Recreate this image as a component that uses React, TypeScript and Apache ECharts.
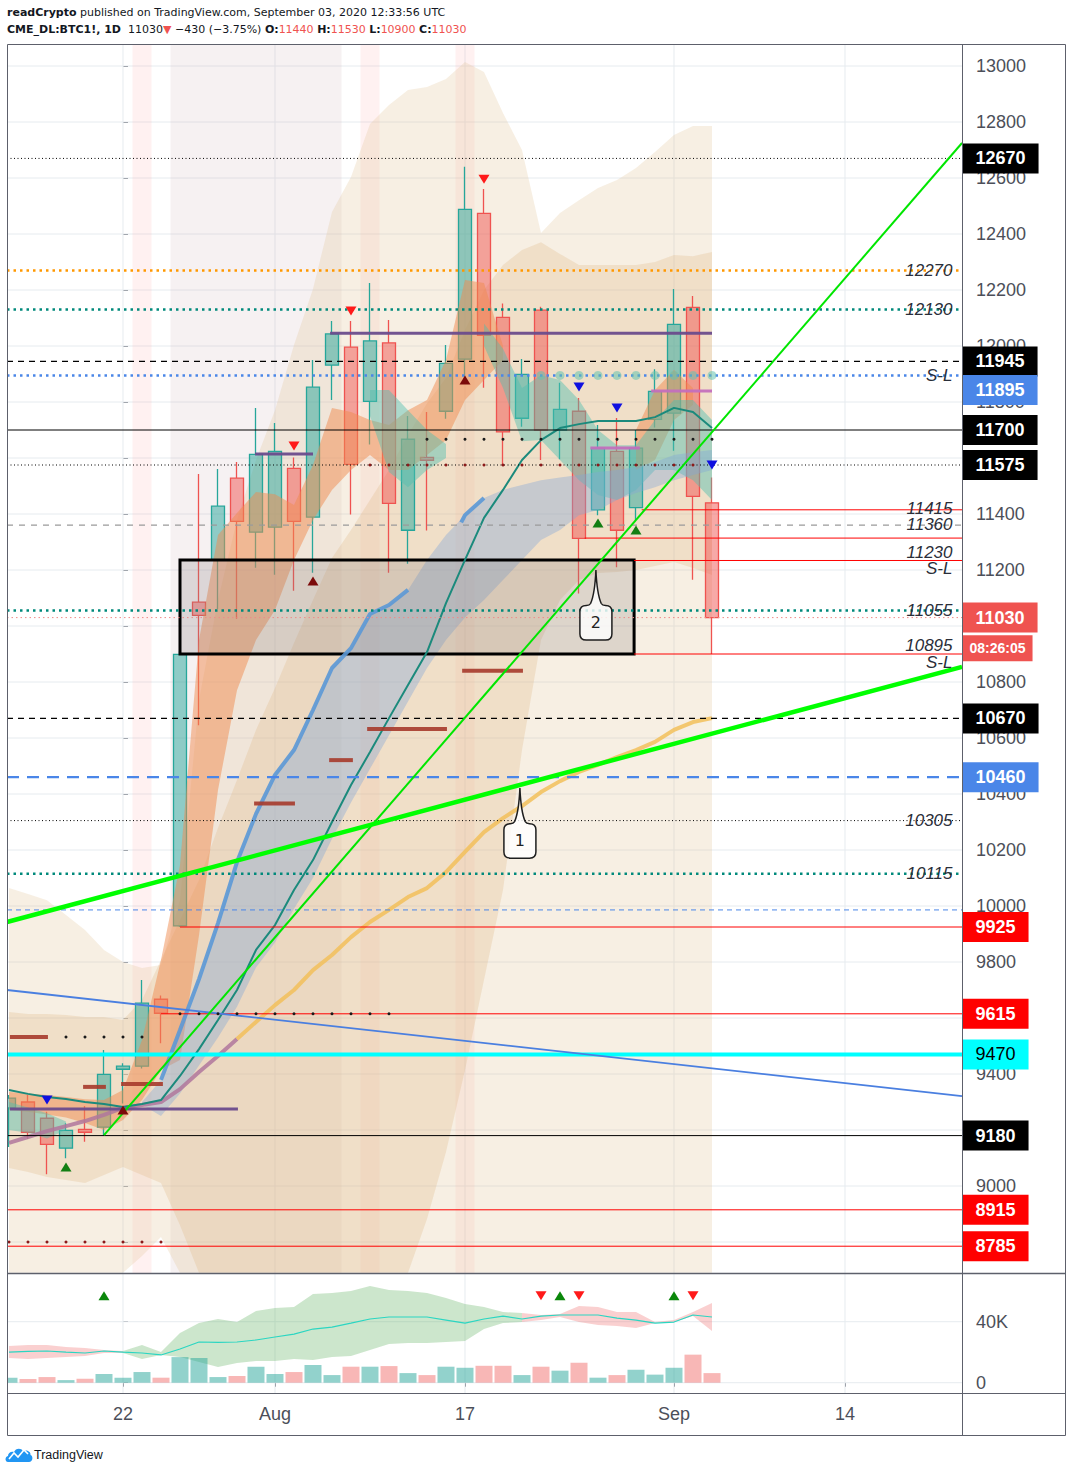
import React, { useEffect, useRef } from "react";
import * as echarts from "echarts";

// ---------------- axis ranges ----------------
const X_MIN = -6.105;
const X_MAX = 44.158;
const P_MIN = 8689.3;
const P_MAX = 13078.6;
const V_MIN = -6750;
const V_MAX = 71300;

// ---------------- candles (Jul 14 .. Sep 3, index k = i - 6, Jul 22 = 0) ----------------
const dates = ["Jul 14","Jul 15","Jul 16","Jul 17","Jul 20","Jul 21","Jul 22","Jul 23","Jul 24","Jul 27","Jul 28","Jul 29","Jul 30","Jul 31","Aug 3","Aug 4","Aug 5","Aug 6","Aug 7","Aug 10","Aug 11","Aug 12","Aug 13","Aug 14","Aug 17","Aug 18","Aug 19","Aug 20","Aug 21","Aug 24","Aug 25","Aug 26","Aug 27","Aug 28","Aug 31","Sep 1","Sep 2","Sep 3"];
const opens = [9279,9300,9242,9135,9202,9210,9417,9428,9667,9929,11085,11236,11528,11335,11353,11563,11389,11932,11996,11802,12011,11342,11602,11767,11953,12474,12102,11742,12128,11700,11767,11415,11624,11423,11738,11760,12138,11440];
const highs = [9325,9325,9265,9224,9286,9486,9438,9736,9680,10910,11543,11561,11586,11779,11725,11602,11950,12089,12089,12225,12093,11750,11764,12004,12640,12561,12152,11954,12140,11869,11814,11718,11743,11700,11917,12204,12179,11530];
const lows = [9139,9168,9042,9099,9158,9180,9295,9420,9510,9925,10646,11061,11026,11208,11183,11126,11190,11807,11398,11648,11190,11222,11341,11740,11867,11851,11575,11712,11593,11596,11116,11396,11210,11379,11709,11626,11165,10900];
const closes = [9314,9192,9149,9199,9192,9399,9428,9653,9617,10899,11038,11428,11374,11613,11624,11374,11853,12043,11577,12018,11438,11667,11592,11938,12488,12038,11693,11899,11700,11774,11313,11635,11342,11635,11838,12077,11463,11030];
const volumes = [3300,2400,3700,1700,2600,5700,3300,7000,3300,16800,16200,3700,4400,10500,5700,7000,11600,5000,10500,10500,10900,6300,5000,10500,9800,11100,11100,5000,10500,7900,13100,3300,5000,8500,5300,9800,18400,6300];
const volMA = [20100,20500,20800,20100,19500,20800,20100,19500,18200,22100,26700,26400,26700,28000,30000,31900,35200,36500,39100,41800,43100,43100,43100,41100,39100,41800,43700,41800,43700,44400,44400,44400,42400,41100,39100,39800,44400,43100];
const volCloudHi = [24065,24720,24720,23408,22753,21441,20786,24720,20130,32588,39145,41768,39800,47013,48980,49636,58160,58816,60127,63406,60783,60127,58816,55538,51603,49636,46358,45702,44391,45046,50292,49636,46358,46358,39800,41112,46358,52259];
const volCloudLo = [16196,15540,16196,16851,17507,19474,19474,15540,18163,16851,13573,10294,12917,14229,14229,15540,14885,16851,17507,21441,25376,26031,26031,26687,27343,35211,39145,39800,41112,43079,39800,37834,37178,35867,39145,39800,43735,33900];

// ---------------- envelopes / bands (price) ----------------
const envOuterHi = [10064,10043,10021,9968,9914,9843,9800,9779,9789,10021,10736,11093,11379,11593,11771,12004,12204,12479,12604,12793,12861,12914,12925,12954,13014,12979,12832,12700,12404,12475,12521,12564,12593,12636,12693,12754,12786,12786];
const envOuterLo = [8690,8690,8690,8690,8690,8690,8690,8750,8818,8690,8690,8690,8690,8690,8690,8690,8690,8690,8690,8690,8690,8690,8690,8690,8690,8690,8690,8690,8690,8690,8690,8690,8690,8690,8690,8690,8690,8690];
const envInnerHi = [9621,9614,9614,9611,9604,9604,9593,9664,9807,9950,10093,10279,10450,10629,10779,10939,11093,11243,11343,11450,11557,11682,11796,11886,12057,12200,12289,12343,12371,12329,12289,12289,12289,12289,12300,12325,12321,12336];
const envInnerLo = [9064,9050,9032,9021,9011,9039,9068,9039,9011,8860,8690,8690,8690,8690,8690,8690,8690,8690,8690,8690,8690,8690,8882,9121,9414,9736,10057,10557,10950,11093,11164,11189,11193,11200,11214,11229,11207,11182];

const orangeK1 = [-6,-5,-4,-3,-2,-1,0,1,2,3,4,5,6,7,8,9,10,11,12,13,14,15,16,17,18,19,20];
const orangeLo1 = [9271,9265,9255,9245,9225,9200,9236,9307,9414,9450,9896,10414,10771,10950,11057,11236,11379,11486,11557,11611,11557,11557,11611,11664,11807,11879,11950];
const orangeHi1 = [9336,9330,9325,9318,9310,9307,9343,9521,9807,10146,10950,11325,11404,11479,11471,11432,11575,11779,11764,11736,11718,11771,11807,11950,12236,12225,12000];
const orangeK2 = [27,28,29,30];
const orangeLo2 = [11557,11593,11736,11790];
const orangeHi2 = [11700,11843,11914,11850];

const tealK1 = [-6,-5,-4,-3];
const tealLo1 = [9200,9190,9170,9200];
const tealHi1 = [9300,9280,9260,9230];
const tealK2 = [13,14,15,16,17];
const tealLo2 = [11750,11550,11496,11557,11600];
const tealHi2 = [11843,11843,11771,11700,11650];
const tealK3 = [19,20,21,22,23,24,25,26,27,28,29,30,31];
const tealLo3 = [12000,11850,11660,11664,11593,11521,11468,11450,11486,11557,11557,11521,11450];
const tealHi3 = [12080,11990,11850,11896,11879,11807,11700,11646,11646,11736,11807,11807,11736];

const grayK = [1,2,3,4,5,6,7,8,9,10,11,12,13,14,15,16,17,18,19,20,21,22,23,24,25,26,27,28,29,30,31];
const grayLo = [9290,9250,9330,9430,9530,9640,9780,9870,9990,10100,10240,10370,10490,10610,10730,10850,10950,11030,11093,11164,11236,11307,11343,11396,11414,11450,11475,11496,11521,11539,11557];
const grayHi = [9300,9379,9557,9739,9939,10157,10329,10468,10557,10700,10850,10921,11043,11075,11129,11236,11325,11396,11457,11486,11504,11521,11530,11539,11550,11557,11568,11586,11611,11621,11629];

// ---------------- moving-average style lines ----------------
const mauveK = [-6,-5,-4,-3,-2,-1,0,1,2,3,4,5,6];
const mauveP = [9154,9175,9196,9214,9232,9254,9279,9289,9300,9346,9407,9464,9525];
const yellowK = [6,7,8,9,10,11,12,13,14,15,16,17,18,19,20,21,22,23,24,25,26,27,28,29,30,31];
const yellowP = [9525,9586,9646,9700,9771,9825,9889,9943,9986,10032,10064,10121,10193,10264,10314,10357,10407,10446,10479,10504,10532,10557,10586,10629,10657,10671];
const blueK1 = [2,3,4,5,6,7,8,9,10,11,12,13,14,15];
const blueP1 = [9379,9557,9739,9939,10157,10329,10468,10557,10700,10850,10921,11043,11075,11129];
const blueK2 = [17.8,18,19];
const blueP2 = [11370,11396,11457];
const emaP = [9343,9329,9318,9311,9300,9293,9282,9293,9307,9393,9489,9593,9700,9843,9932,10057,10164,10300,10432,10550,10671,10789,10907,11082,11236,11386,11486,11593,11664,11707,11721,11732,11732,11732,11746,11779,11764,11707];

// ---------------- trend lines [k1, p1, k2, p2] ----------------
const trendThickGreen = [X_MIN, 9943, X_MAX, 10854];
const trendThinGreen = [-1, 9182, X_MAX, 12725];
const trendBlue = [X_MIN, 9700, X_MAX, 9321];

// ---------------- horizontal levels ----------------
const levelPrices = [12670,12270,12130,11945,11895,11700,11575,11415,11360,11314,11234,11055,11030,10900,10670,10460,10305,10115,9986,9925,9615,9470,9180,8915,8785];
const levelStart = [X_MIN,X_MIN,X_MIN,X_MIN,X_MIN,X_MIN,X_MIN,27.3,X_MIN,24.3,26.9,X_MIN,X_MIN,26.9,X_MIN,X_MIN,X_MIN,X_MIN,X_MIN,3,2,X_MIN,X_MIN,X_MIN,X_MIN];
const levelKind = ["blackDot","orangeDot","tealDot","blackDash","blueDot","black","blackDot","red","grayDash","red","red","tealDot","salmonDot","red","blackDash","blueDash","blackDot","tealDot","blueThin","red","red","cyan","black","red","red"];

const noteTexts = ["12270","12130","S-L","11415","11360","11230","S-L","11055","10895","S-L","10305","10115"];
const notePrices = [12270,12130,11895,11421,11364,11264,11207,11055,10929,10871,10305,10115];

const tagTexts = ["12670","11945","11895","11700","11575","11030","08:26:05","10670","10460","9925","9615","9470","9180","8915","8785"];
const tagPrices = [12670,11945,11843,11700,11575,11030,10921,10670,10460,9925,9615,9470,9180,8915,8785];
const tagKind = ["black","black","blue","black","black","salmon","salmon","black","blue","red","red","cyan","black","red","red"];

// short segments [k1, k2, price]
const darkRedSegs = [[-5.95,-3.95,9532],[-2.1,-0.9,9354],[-0.1,2.1,9364],[6.9,9.05,10366],[10.85,12.1,10521],[12.85,17.05,10632],[17.85,21.05,10840]];
const purpleSegs = [[-5.95,6.05,9275],[6.95,10,11614],[10.9,31,12046]];
const pinkSegs = [[24.6,27.2,11636],[27.8,31,11839]];

// dot rows [kFrom, kTo, price]
const blackDotRows = [[16,31,11667],[3,14,9615],[-3,1,9532]];
const redDotRows = [[-6,2,8800],[13,30,11575]];
const tealCircleRow = [22,31,11895];

// markers
const greenUpK = [-3,25,27];
const greenUpP = [9068,11368,11343];
const maroonUpK = [0,10,18];
const maroonUpP = [9271,11161,11879];
const redDownK = [9,12,19];
const redDownP = [11643,12125,12596];
const blueDownK = [-4,24,26,31];
const blueDownP = [9307,11854,11779,11575];
const volUpK = [-1,23,29];
const volDownK = [22,24,30];
const volMarkerLevel = 57000;

// background stripes [kFrom, kTo]
const stripeFrom = [0.5,2.5,12.5,17.5];
const stripeTo = [1.5,11.5,13.5,18.5];
const stripeKind = ["pink","gray","pink","pink"];

// rectangle zone
const zoneK = [3.0, 26.9];
const zoneP = [10900, 11236];

// callouts
const calloutK = [20.89, 24.89];
const calloutP = [10421, 11200];
const calloutText = ["1", "2"];

// axes ticks
const priceTicks = [8800,9000,9200,9400,9600,9800,10000,10200,10400,10600,10800,11000,11200,11400,11600,11800,12000,12200,12400,12600,12800,13000];
// labels that are not fully covered by the price tags
const priceTickLabels = [9000,9400,9800,10000,10200,10400,10600,10800,11000,11200,11400,11800,12000,12200,12400,12600,12800,13000];
const volTicks = [0, 40000];
const timeTickIdx = [0, 8, 18, 29, 38];
const timeTickLabels = ["22", "Aug", "17", "Sep", "14"];

const FONT = "DejaVu Sans";
const AXFONT = "Liberation Sans";
const CALLOUT_PATH = "M16 0C16.5 12 18 26 21 33Q22 35 25 35Q31 35 31 41L31 63Q31 69 25 69L7 69Q1 69 1 63L1 41Q1 35 7 35Q10 35 11 33C14 26 15.5 12 16 0Z";
const TV_LOGO = "M3 17C0 17 -0.5 12 3 11C3 8 6 6 9 7C10.5 3 16 2.5 18 6C21 4.5 26 6 25.5 10C28.5 11 28 17 24 17Z";

let logoDone = false;
function ensureLogo() {
  if (logoDone) return;
  echarts.graphic.registerShape("tvlogo", echarts.graphic.extendPath(TV_LOGO, {}));
  logoDone = true;
}

const ks = dates.map((_, i) => i - 6);
function range(a: number, b: number) {
  const r: number[] = [];
  for (let k = a; k <= b; k++) r.push(k);
  return r;
}

const levelStyle: any = {
  blackDot: { color: "#000", width: 1, type: [1, 2.5] },
  orangeDot: { color: "#ff9800", width: 2.5, type: [2.5, 4] },
  tealDot: { color: "#00897b", width: 2.5, type: [2.5, 4] },
  blackDash: { color: "#000", width: 1.2, type: [6, 5] },
  blueDot: { color: "#4a86e8", width: 2.5, type: [2.5, 4] },
  black: { color: "#000", width: 1, type: "solid" },
  red: { color: "#ff0000", width: 1, type: "solid" },
  grayDash: { color: "#9a9a9a", width: 1.2, type: [6, 6] },
  salmonDot: { color: "#f08a88", width: 1, type: [1.5, 3] },
  blueDash: { color: "#4a86e8", width: 2.2, type: [12, 8] },
  blueThin: { color: "#4a86e8", width: 1, type: [5, 4] },
  cyan: { color: "#00ffff", width: 4, type: "solid" },
};
const tagColors: any = {
  black: ["#000000", "#ffffff", "bold"],
  blue: ["#4a86e8", "#ffffff", "bold"],
  salmon: ["#ef5350", "#ffffff", "bold"],
  red: ["#ff0000", "#ffffff", "bold"],
  cyan: ["#00ffff", "#000000", "normal"],
};

function seg(pane: number, data: number[][], color: string, width: number, type: any, z: number, opacity = 1) {
  return {
    type: "line", xAxisIndex: pane, yAxisIndex: pane, data, symbol: "none", silent: true, z,
    lineStyle: { color, width, type, opacity, cap: "butt" }, emphasis: { disabled: true },
  };
}

function band(pane: number, kArr: number[], lo: number[], hi: number[], color: string, z: number) {
  return {
    type: "custom", xAxisIndex: pane, yAxisIndex: pane, z, silent: true,
    data: kArr.map((k, i) => [k, lo[i], hi[i]]),
    renderItem: (params: any, api: any) => {
      if (params.dataIndex !== 0) return null;
      const pts: number[][] = [];
      for (let i = 0; i < kArr.length; i++) pts.push(api.coord([kArr[i], hi[i]]));
      for (let i = kArr.length - 1; i >= 0; i--) pts.push(api.coord([kArr[i], lo[i]]));
      return { type: "polygon", shape: { points: pts }, style: { fill: color } };
    },
  };
}

function markers(pane: number, kArr: number[], pArr: number[], rotate: number, color: string, z: number) {
  return {
    type: "scatter", xAxisIndex: pane, yAxisIndex: pane, z, silent: true,
    symbol: "triangle", symbolSize: [11, 9], symbolRotate: rotate,
    itemStyle: { color, opacity: 1 },
    data: kArr.map((k, i) => [k, pArr[i]]),
  };
}

function dots(kArr: number[], p: number, color: string, size: number, z: number) {
  return {
    type: "scatter", xAxisIndex: 0, yAxisIndex: 0, z, silent: true, symbol: "circle", symbolSize: size,
    itemStyle: { color, opacity: 1 }, data: kArr.map((k) => [k, p]),
  };
}

function buildOption() {
  const series: any[] = [];
  // grid lines
  priceTicks.forEach((p) => series.push(seg(0, [[X_MIN, p], [X_MAX, p]], "#e6ebef", 1, "solid", 1)));
  timeTickIdx.forEach((k) => series.push(seg(0, [[k, P_MIN], [k, P_MAX]], "#e6ebef", 1, "solid", 1)));
  volTicks.forEach((v) => series.push(seg(1, [[X_MIN, v], [X_MAX, v]], "#e6ebef", 1, "solid", 1)));
  timeTickIdx.forEach((k) => series.push(seg(1, [[k, V_MIN], [k, V_MAX]], "#e6ebef", 1, "solid", 1)));

  // stripes
  series.push({
    type: "custom", xAxisIndex: 0, yAxisIndex: 0, z: 2, silent: true,
    data: stripeFrom.map((a, i) => [a, stripeTo[i]]),
    renderItem: (params: any, api: any) => {
      const i = params.dataIndex;
      const a = api.coord([stripeFrom[i], P_MAX]);
      const b = api.coord([stripeTo[i], P_MIN]);
      return {
        type: "rect", shape: { x: a[0], y: a[1], width: b[0] - a[0], height: b[1] - a[1] },
        style: { fill: stripeKind[i] === "pink" ? "rgba(255,160,160,0.15)" : "rgba(200,170,175,0.16)" },
      };
    },
  });

  // envelopes
  series.push(band(0, ks, envOuterLo, envOuterHi, "rgba(225,195,150,0.27)", 3));
  series.push(band(0, ks, envInnerLo, envInnerHi, "rgba(220,180,130,0.27)", 4));

  // candles
  series.push({
    type: "candlestick", xAxisIndex: 0, yAxisIndex: 0, z: 5, silent: true, barWidth: 14, clip: true,
    data: ks.map((k, i) => [k, opens[i], closes[i], lows[i], highs[i]]),
    itemStyle: {
      color: "rgba(38,166,154,0.5)", color0: "rgba(239,83,80,0.5)",
      borderColor: "#26a69a", borderColor0: "#ef5350", borderWidth: 1.3,
    },
  });

  // indicator bands over candles
  series.push(band(0, orangeK1, orangeLo1, orangeHi1, "rgba(240,140,80,0.5)", 6));
  series.push(band(0, orangeK2, orangeLo2, orangeHi2, "rgba(240,140,80,0.5)", 6));
  series.push(band(0, tealK1, tealLo1, tealHi1, "rgba(80,190,175,0.45)", 7));
  series.push(band(0, tealK2, tealLo2, tealHi2, "rgba(80,190,175,0.45)", 7));
  series.push(band(0, tealK3, tealLo3, tealHi3, "rgba(80,190,175,0.45)", 7));
  series.push(band(0, grayK, grayLo, grayHi, "rgba(130,165,215,0.38)", 8));

  // zone rectangle
  series.push({
    type: "custom", xAxisIndex: 0, yAxisIndex: 0, z: 9, silent: true,
    data: [[zoneK[0], zoneK[1], zoneP[0], zoneP[1]]],
    renderItem: (params: any, api: any) => {
      const a = api.coord([zoneK[0], zoneP[1]]);
      const b = api.coord([zoneK[1], zoneP[0]]);
      return {
        type: "rect", shape: { x: a[0], y: a[1], width: b[0] - a[0], height: b[1] - a[1] },
        style: { fill: "rgba(140,130,130,0.24)", stroke: "#000", lineWidth: 3 },
      };
    },
  });

  // MA lines
  series.push(seg(0, mauveK.map((k, i) => [k, mauveP[i]]), "#b0779c", 4, "solid", 10, 0.85));
  series.push(seg(0, yellowK.map((k, i) => [k, yellowP[i]]), "#f2c05a", 4, "solid", 10, 0.85));
  series.push(seg(0, blueK1.map((k, i) => [k, blueP1[i]]), "#5b98d6", 4, "solid", 10, 0.9));
  series.push(seg(0, blueK2.map((k, i) => [k, blueP2[i]]), "#5b98d6", 4, "solid", 10, 0.9));
  series.push(seg(0, ks.map((k, i) => [k, emaP[i]]), "#1b8a7c", 2, "solid", 10));

  // short segments
  darkRedSegs.forEach((s) => series.push(seg(0, [[s[0], s[2]], [s[1], s[2]]], "#a63a2b", 4, "solid", 11, 0.9)));
  purpleSegs.forEach((s) => series.push(seg(0, [[s[0], s[2]], [s[1], s[2]]], "#6a4b8c", 3, "solid", 11, 0.95)));
  pinkSegs.forEach((s) => series.push(seg(0, [[s[0], s[2]], [s[1], s[2]]], "#c36fbd", 3, "solid", 11, 0.95)));

  // horizontal levels
  levelPrices.forEach((p, i) => {
    const st = levelStyle[levelKind[i]];
    series.push(seg(0, [[levelStart[i], p], [X_MAX, p]], st.color, st.width, st.type, 12));
  });

  // trend lines
  series.push(seg(0, [[trendBlue[0], trendBlue[1]], [trendBlue[2], trendBlue[3]]], "#4a7fe0", 1.8, "solid", 12));
  series.push(seg(0, [[trendThinGreen[0], trendThinGreen[1]], [trendThinGreen[2], trendThinGreen[3]]], "#00e600", 2, "solid", 12));
  series.push(seg(0, [[trendThickGreen[0], trendThickGreen[1]], [trendThickGreen[2], trendThickGreen[3]]], "#00ff00", 4.5, "solid", 12));

  // dot rows
  blackDotRows.forEach((r) => series.push(dots(range(r[0], r[1]), r[2], "#1a1a1a", 3, 13)));
  redDotRows.forEach((r) => series.push(dots(range(r[0], r[1]), r[2], "#8b1a1a", 3, 13)));
  series.push(dots(range(tealCircleRow[0], tealCircleRow[1]), tealCircleRow[2], "rgba(100,195,175,0.55)", 9, 13));

  // triangles
  series.push(markers(0, greenUpK, greenUpP, 0, "#137f13", 14));
  series.push(markers(0, maroonUpK, maroonUpP, 0, "#7b0a0a", 14));
  series.push(markers(0, redDownK, redDownP, 180, "#ff1a1a", 14));
  series.push(markers(0, blueDownK, blueDownP, 180, "#1010e0", 14));

  // italic notes
  series.push({
    type: "scatter", xAxisIndex: 0, yAxisIndex: 0, z: 15, silent: true, clip: false,
    symbolSize: 1, itemStyle: { color: "rgba(0,0,0,0)", opacity: 1 },
    data: notePrices.map((p) => [X_MAX, p]),
    label: {
      show: true, position: "left", distance: 9, formatter: (pp: any) => noteTexts[pp.dataIndex],
      fontFamily: AXFONT, fontSize: 17, fontStyle: "italic", color: "#2a2e39",
    },
  });

  // price tags on the axis
  series.push({
    type: "scatter", xAxisIndex: 0, yAxisIndex: 0, z: 20, silent: true, clip: false,
    symbolSize: 1, itemStyle: { color: "rgba(0,0,0,0)", opacity: 1 },
    data: tagPrices.map((p, i) => {
      const c = tagColors[tagKind[i]];
      const item: any = { value: [X_MAX, p], label: { backgroundColor: c[0], color: c[1], fontWeight: c[2] } };
      if (tagTexts[i].indexOf(":") >= 0) {
        item.label.fontSize = 14;
        item.label.lineHeight = 16;
        item.label.padding = [5, 7, 5, 7];
      }
      return item;
    }),
    label: {
      show: true, position: "right", distance: 0, formatter: (pp: any) => tagTexts[pp.dataIndex],
      fontFamily: AXFONT, fontSize: 18, fontWeight: "bold", padding: [6, 13, 5, 13], lineHeight: 19,
    },
  });

  // callouts
  series.push({
    type: "custom", xAxisIndex: 0, yAxisIndex: 0, z: 16, silent: true,
    data: calloutK.map((k, i) => [k, calloutP[i]]),
    renderItem: (params: any, api: any) => {
      const i = params.dataIndex;
      const pt = api.coord([calloutK[i], calloutP[i]]);
      return {
        type: "group",
        children: [
          {
            type: "path",
            shape: { pathData: CALLOUT_PATH, x: pt[0] - 16, y: pt[1], width: 32, height: 70, layout: "cover" },
            style: { fill: "rgba(255,255,255,0.8)", stroke: "#1e1e1e", lineWidth: 1.5 },
          },
          {
            type: "text", x: pt[0], y: pt[1] + 52,
            style: { text: calloutText[i], align: "center", verticalAlign: "middle", fontSize: 16, fontFamily: FONT, fill: "#222" },
          },
        ],
      };
    },
  });

  // ---------- volume pane ----------
  series.push(band(1, range(-6, 0), volCloudLo.slice(0, 7), volCloudHi.slice(0, 7), "rgba(240,110,110,0.32)", 3));
  series.push(band(1, range(0, 21), volCloudLo.slice(6, 28), volCloudHi.slice(6, 28), "rgba(100,180,100,0.33)", 3));
  series.push(band(1, range(21, 31), volCloudLo.slice(27), volCloudHi.slice(27), "rgba(240,110,110,0.32)", 3));
  series.push({
    type: "bar", xAxisIndex: 1, yAxisIndex: 1, z: 5, silent: true, barWidth: 17, clip: true,
    data: ks.map((k, i) => {
      const prev = i === 0 ? opens[0] : closes[i - 1];
      const up = closes[i] >= prev;
      return { value: [k, volumes[i]], itemStyle: { color: up ? "rgba(38,166,154,0.5)" : "rgba(239,83,80,0.42)" } };
    }),
  });
  series.push(seg(1, ks.map((k, i) => [k, volMA[i]]), "#2bd6c2", 1.2, "solid", 6));
  series.push(markers(1, volUpK, volUpK.map(() => volMarkerLevel), 0, "#0a870a", 8));
  series.push(markers(1, volDownK, volDownK.map(() => volMarkerLevel), 180, "#ff1a1a", 8));

  const axisText = { color: "#4c4f59", fontFamily: AXFONT };

  return {
    animation: false,
    backgroundColor: "#ffffff",
    grid: [
      { left: 7, top: 44, width: 955, height: 1229 },
      { left: 7, top: 1274, width: 955, height: 119 },
    ],
    xAxis: [
      { type: "value", gridIndex: 0, min: X_MIN, max: X_MAX, show: false },
      {
        type: "value", gridIndex: 1, min: X_MIN, max: X_MAX,
        axisLine: { show: false }, splitLine: { show: false },
        axisTick: { show: true, customValues: timeTickIdx, length: 4, lineStyle: { color: "#5d606b" } },
        axisLabel: {
          customValues: timeTickIdx, margin: 12, fontSize: 18, ...axisText,
          formatter: (v: number) => timeTickLabels[timeTickIdx.indexOf(Math.round(v))] || "",
        },
      },
    ],
    yAxis: [
      {
        type: "value", gridIndex: 0, position: "right", min: P_MIN, max: P_MAX,
        axisLine: { show: false }, splitLine: { show: false },
        axisTick: { show: true, customValues: priceTicks, length: 5, lineStyle: { color: "#5d606b" } },
        axisLabel: { customValues: priceTickLabels, margin: 14, fontSize: 18, ...axisText, formatter: (v: number) => String(v) },
      },
      {
        type: "value", gridIndex: 1, position: "right", min: V_MIN, max: V_MAX,
        axisLine: { show: false }, splitLine: { show: false },
        axisTick: { show: true, customValues: volTicks, length: 5, lineStyle: { color: "#5d606b" } },
        axisLabel: {
          customValues: volTicks, margin: 14, fontSize: 18, ...axisText,
          formatter: (v: number) => (v === 0 ? "0" : Math.round(v / 1000) + "K"),
        },
      },
    ],
    series,
    graphic: [
      // white margin left of the chart frame (hides the part of the first bar outside the pane)
      { type: "rect", z: 99, shape: { x: 0, y: 44, width: 7, height: 1392 }, style: { fill: "#ffffff" } },
      {
        type: "text", x: 7, y: 12, z: 100,
        style: {
          text: "{b|readCrypto} published on TradingView.com, September 03, 2020 12:33:56 UTC",
          fontSize: 11, fontFamily: FONT, fill: "#131722", verticalAlign: "middle",
          rich: { b: { fontWeight: "bold", fontSize: 11, fontFamily: FONT, fill: "#131722" } },
        },
      },
      {
        type: "text", x: 7, y: 29, z: 100,
        style: {
          text: "{b|CME_DL:BTC1!, 1D}  11030{r|▼} −430 (−3.75%) {b|O:}{r|11440} {b|H:}{r|11530} {b|L:}{r|10900} {b|C:}{r|11030}",
          fontSize: 11, fontFamily: FONT, fill: "#131722", verticalAlign: "middle",
          rich: {
            b: { fontWeight: "bold", fontSize: 11, fontFamily: FONT, fill: "#131722" },
            r: { fontSize: 11, fontFamily: FONT, fill: "#ef5350" },
          },
        },
      },
      { type: "rect", z: 100, shape: { x: 7.5, y: 44.5, width: 1058, height: 1391 }, style: { fill: "none", stroke: "#5d606b", lineWidth: 1 } },
      { type: "line", z: 100, shape: { x1: 962.5, y1: 44, x2: 962.5, y2: 1436 }, style: { stroke: "#5d606b", lineWidth: 1 } },
      { type: "line", z: 100, shape: { x1: 7, y1: 1273.5, x2: 1066, y2: 1273.5 }, style: { stroke: "#5d606b", lineWidth: 1.5 } },
      { type: "line", z: 100, shape: { x1: 7, y1: 1393.5, x2: 1066, y2: 1393.5 }, style: { stroke: "#5d606b", lineWidth: 1 } },
      { type: "tvlogo", x: 5, y: 1445, scaleX: 1, scaleY: 1, z: 100, style: { fill: "#2196f3" } },
      {
        type: "polyline", z: 101,
        shape: { points: [[9, 1459], [14, 1453], [18, 1457], [24, 1450], [28, 1454]] },
        style: { stroke: "#ffffff", lineWidth: 1.6, fill: "none" },
      },
      {
        type: "text", x: 34, y: 1455, z: 100,
        style: { text: "TradingView", fontSize: 12.5, fontFamily: "Liberation Sans", fill: "#131722", verticalAlign: "middle" },
      },
    ],
  };
}

export default function App() {
  const ref = useRef<HTMLDivElement>(null);
  useEffect(() => {
    if (!ref.current) return;
    ensureLogo();
    const chart = echarts.init(ref.current, null, { renderer: "svg" });
    chart.setOption(buildOption() as any);
    return () => chart.dispose();
  }, []);
  return (
    <div
      ref={ref}
      style={{ position: "absolute", left: 0, top: 0, width: 1073, height: 1473, background: "#ffffff" }}
    />
  );
}
